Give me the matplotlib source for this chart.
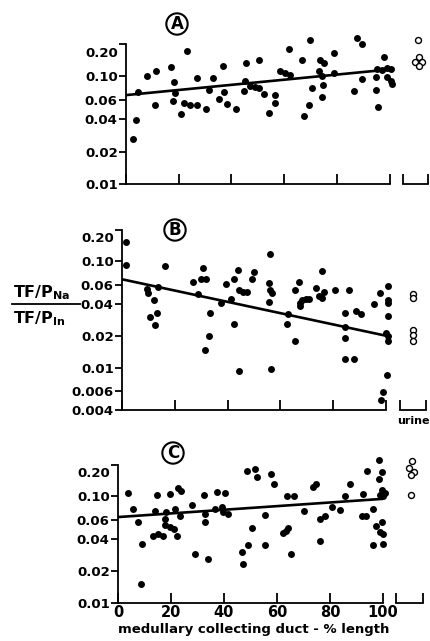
import matplotlib
matplotlib.use("Agg")
import matplotlib.pyplot as plt
from matplotlib.lines import Line2D
from matplotlib.ticker import FixedLocator, FixedFormatter, NullLocator
import matplotlib.transforms as mtransforms

# ---------------- data ----------------
x_ticks = [0, 20, 40, 60, 80, 100]
x_ticklabels = ["0", "20", "40", "60", "80", "100"]
x_label = "medullary collecting duct - % length"

yticks_AC = [0.20, 0.10, 0.06, 0.04, 0.02, 0.01]
ylabels_AC = ["0.20", "0.10", "0.06", "0.04", "0.02", "0.01"]
yticks_B = [0.20, 0.10, 0.06, 0.04, 0.02, 0.01, 0.006, 0.004]
ylabels_B = ["0.20", "0.10", "0.06", "0.04", "0.02", "0.01", "0.006", "0.004"]

line_x = [0, 100]
line_A = [0.067, 0.116]
line_B = [0.068, 0.020]
line_C = [0.064, 0.095]

A_x = [3.9, 2.7, 4.6, 8.0, 11.2, 10.9, 17.0, 18.1, 18.5, 17.8,
       23.2, 21.9, 24.1, 20.9, 27.1, 27.1, 30.3, 31.4, 33.2, 35.2,
       36.9, 37.1, 38.3, 41.8, 45.4, 45.1, 44.7, 47.2, 49.1, 50.5,
       50.3, 52.3, 56.4, 56.7, 54.2, 61.8, 58.3, 60.2, 62.4, 66.9,
       69.8, 70.4, 69.4, 67.5, 73.6, 75.3, 73.2, 74.5, 74.7, 74.5,
       78.9, 78.9, 86.5, 87.7, 89.6, 89.6, 97.8, 95.3, 97.2, 99.1,
       100.5, 94.7, 99.1, 100.4, 101.0, 94.7, 95.6]
A_y = [0.039, 0.026, 0.071, 0.100, 0.112, 0.054, 0.122, 0.088, 0.070, 0.059,
       0.173, 0.057, 0.054, 0.045, 0.096, 0.054, 0.050, 0.075, 0.097, 0.061,
       0.125, 0.071, 0.055, 0.050, 0.132, 0.090, 0.073, 0.082, 0.080, 0.141,
       0.078, 0.068, 0.067, 0.057, 0.046, 0.179, 0.112, 0.108, 0.103, 0.141,
       0.216, 0.078, 0.054, 0.043, 0.141, 0.132, 0.112, 0.101, 0.083, 0.065,
       0.166, 0.108, 0.073, 0.226, 0.201, 0.094, 0.152, 0.117, 0.114, 0.119,
       0.117, 0.098, 0.098, 0.091, 0.085, 0.075, 0.052]

B_x = [1.6, 1.4, 16.1, 9.4, 9.8, 12.0, 13.6, 10.5, 13.3, 12.6,
       26.8, 28.9, 30.8, 29.9, 31.8, 33.5, 33.1, 31.4, 37.5, 39.4,
       42.6, 43.8, 41.4, 42.5, 44.4, 45.7, 47.2, 44.4, 49.2, 49.9,
       56.0, 55.6, 56.2, 56.9, 55.6, 56.5, 62.8, 62.5, 65.7, 66.9,
       65.7, 67.5, 68.2, 69.7, 70.9, 67.3, 73.6, 75.7, 74.5, 75.7,
       76.7, 80.5, 85.8, 84.5, 88.7, 90.6, 84.5, 84.5, 84.5, 87.7,
       95.6, 97.7, 100.6, 100.9, 100.9, 100.6, 100.0, 100.6, 100.6, 100.5,
       99.0, 98.1]
B_y = [0.153, 0.092, 0.090, 0.055, 0.051, 0.043, 0.057, 0.030, 0.033, 0.025,
       0.064, 0.049, 0.086, 0.068, 0.069, 0.033, 0.020, 0.0148, 0.041, 0.061,
       0.068, 0.084, 0.044, 0.026, 0.054, 0.052, 0.052, 0.0094, 0.068, 0.079,
       0.117, 0.063, 0.054, 0.050, 0.042, 0.0098, 0.032, 0.026, 0.018, 0.064,
       0.054, 0.041, 0.043, 0.044, 0.044, 0.038, 0.056, 0.081, 0.047, 0.045,
       0.052, 0.054, 0.054, 0.033, 0.034, 0.032, 0.024, 0.019, 0.012, 0.012,
       0.040, 0.051, 0.059, 0.043, 0.041, 0.031, 0.021, 0.0198, 0.0179, 0.0086,
       0.0059, 0.0050]

C_x = [3.8, 5.7, 7.5, 9.2, 8.8, 13.8, 14.7, 18.1, 17.7, 17.7,
       19.6, 21.1, 13.2, 15.1, 17.0, 22.3, 19.7, 21.4, 22.6, 23.9,
       23.5, 27.9, 29.2, 32.5, 32.7, 32.7, 34.0, 37.5, 40.5, 36.5,
       39.4, 39.6, 41.5, 48.8, 51.6, 52.5, 50.6, 49.1, 46.9, 47.2,
       57.7, 59.0, 55.5, 55.5, 63.7, 66.5, 70.3, 65.3, 62.4, 63.3,
       64.3, 73.7, 74.7, 76.2, 78.1, 76.2, 80.6, 83.8, 85.7, 87.5,
       92.0, 93.6, 92.6, 93.8, 96.3, 96.3, 98.6, 99.5, 98.6, 99.5,
       100.8, 100.1, 98.9, 99.5, 97.4, 98.9, 100.1, 100.1]
C_y = [0.108, 0.077, 0.057, 0.036, 0.015, 0.073, 0.103, 0.071, 0.061, 0.054,
       0.052, 0.049, 0.042, 0.044, 0.042, 0.042, 0.106, 0.077, 0.121, 0.113,
       0.066, 0.084, 0.029, 0.103, 0.068, 0.057, 0.026, 0.111, 0.109, 0.076,
       0.080, 0.072, 0.069, 0.174, 0.181, 0.154, 0.050, 0.035, 0.030, 0.023,
       0.162, 0.130, 0.067, 0.035, 0.100, 0.100, 0.073, 0.029, 0.045, 0.047,
       0.050, 0.124, 0.130, 0.062, 0.066, 0.038, 0.080, 0.075, 0.100, 0.130,
       0.066, 0.065, 0.105, 0.174, 0.076, 0.035, 0.221, 0.169, 0.146, 0.115,
       0.109, 0.100, 0.103, 0.058, 0.053, 0.046, 0.044, 0.036]

urine_A_x = [0.60, 0.63, 0.49, 0.76, 0.63]
urine_A_y = [0.216, 0.152, 0.137, 0.137, 0.126]
urine_B_x = [0.48, 0.48, 0.48, 0.48, 0.48]
urine_B_y = [0.0495, 0.045, 0.0227, 0.0202, 0.0179]
urine_C_x = [0.56, 0.47, 0.65, 0.55, 0.54]
urine_C_y = [0.217, 0.186, 0.171, 0.159, 0.103]

# ---------------- style / layout ----------------
plt.rcParams['font.family'] = ['DejaVu Sans']
plt.rcParams['font.weight'] = 'bold'
plt.rcParams['mathtext.fontset'] = 'dejavusans'

W, H = 431, 641
fig = plt.figure(figsize=(W / 100, H / 100), dpi=100)
fig.patch.set_facecolor('white')
LW = 1.3


def rect(l, r, t, b):
    return [l / W, 1 - b / H, (r - l) / W, (b - t) / H]


def panel(main_box, urine_box, xs, ys, ly, yticks, ylabels, ux, uy, show_x):
    ax = fig.add_axes(rect(*main_box))
    ax.patch.set_visible(False)
    ax.set_yscale('log')
    ax.set_xlim(0, 100)
    ax.set_ylim(yticks[-1], yticks[0])
    ax.plot(line_x, ly, '-', color='k', lw=1.9, solid_capstyle='butt', zorder=2)
    ax.plot(xs, ys, 'o', color='k', ms=5, mew=0, clip_on=False, zorder=3)
    for s in ['top', 'right']:
        ax.spines[s].set_visible(False)
    for s in ['left', 'bottom']:
        ax.spines[s].set_linewidth(LW)
    ax.yaxis.set_major_locator(FixedLocator(yticks))
    ax.yaxis.set_major_formatter(FixedFormatter([''] + ylabels[1:]))
    ax.yaxis.set_minor_locator(NullLocator())
    ax.tick_params(axis='y', direction='out', length=5, width=LW, pad=1, labelsize=9.5)
    ax.set_xticks(x_ticks)
    ax.tick_params(axis='x', direction='in', length=7, width=LW, pad=1.5, labelsize=10.5)
    if show_x:
        ax.set_xticklabels(x_ticklabels)
    else:
        ax.set_xticklabels([])
    trans = mtransforms.blended_transform_factory(ax.transAxes, ax.transData)
    off = mtransforms.ScaledTranslation(-6 / 72, -2 / 72, fig.dpi_scale_trans)
    ax.text(0, yticks[0], ylabels[0], transform=trans + off, ha='right', va='top',
            fontsize=9.5)

    ua = fig.add_axes(rect(*urine_box))
    ua.patch.set_visible(False)
    ua.set_yscale('log')
    ua.set_ylim(yticks[-1], yticks[0])
    ua.set_xlim(0, 1)
    ua.plot(ux, uy, 'o', mfc='white', mec='k', ms=4.3, mew=1.0, clip_on=False)
    for s in ['top', 'right', 'left']:
        ua.spines[s].set_visible(False)
    ua.spines['bottom'].set_linewidth(LW)
    ua.set_yticks([])
    ua.yaxis.set_minor_locator(NullLocator())
    ua.set_xticks([0, 1])
    ua.set_xticklabels([])
    ua.tick_params(axis='x', direction='in', length=7, width=LW)
    return ax


axA = panel((126, 389.5, 44, 184), (403, 428, 44, 184), A_x, A_y, line_A,
            yticks_AC, ylabels_AC, urine_A_x, urine_A_y, False)
axB = panel((122, 386, 229.5, 410), (400, 426.5, 229.5, 410), B_x, B_y, line_B,
            yticks_B, ylabels_B, urine_B_x, urine_B_y, False)
axC = panel((118, 383, 464.5, 602.7), (396.5, 423.3, 464.5, 602.7), C_x, C_y, line_C,
            yticks_AC, ylabels_AC, urine_C_x, urine_C_y, True)

# circled panel letters
for letter, (px, py) in zip(["A", "B", "C"], [(177, 24), (175, 230), (173, 453)]):
    fig.text(px / W, 1 - py / H, letter, ha='center', va='center', fontsize=12,
             bbox=dict(boxstyle='circle,pad=0.1', fc='white', ec='k', lw=1.5))

# y label as a fraction
fig.text(13 / W, 1 - 297 / H, r'$\mathbf{TF/P}_{\mathbf{Na}}$', ha='left',
         va='baseline', fontsize=11.5)
fig.text(13 / W, 1 - 323 / H, r'$\mathbf{TF/P}_{\mathbf{In}}$', ha='left',
         va='baseline', fontsize=11.5)
fig.add_artist(Line2D([12 / W, 80 / W], [1 - 304 / H, 1 - 304 / H], color='k', lw=1.3))

fig.text(397 / W, 1 - 421 / H, "urine", ha='left', va='center', fontsize=8)
fig.text(254 / W, 1 - 630 / H, x_label, ha='center', va='center', fontsize=9.5)

fig.savefig("out.png", dpi=100, facecolor='white')
